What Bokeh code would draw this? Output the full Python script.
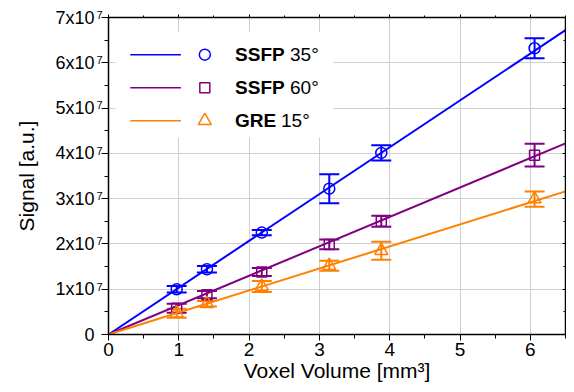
from bokeh.plotting import figure
from bokeh.models import (Whisker, ColumnDataSource, LinearAxis, FixedTicker, Label,
                          BoxAnnotation, Range1d, TeeHead, CustomJSTickFormatter)
from bokeh.embed import file_html
from bokeh.resources import INLINE

# ---- data ----
voxel_volume = [0.97, 1.40, 2.18, 3.14, 3.88, 6.06]
ssfp35 = [1.00e7, 1.44e7, 2.25e7, 3.22e7, 4.01e7, 6.32e7]
ssfp35_err = [0.07e7, 0.07e7, 0.06e7, 0.32e7, 0.17e7, 0.22e7]
ssfp60 = [0.58e7, 0.88e7, 1.38e7, 1.99e7, 2.50e7, 3.96e7]
ssfp60_err = [0.10e7, 0.08e7, 0.09e7, 0.11e7, 0.12e7, 0.25e7]
gre15 = [0.47e7, 0.68e7, 1.06e7, 1.52e7, 1.85e7, 2.99e7]
gre15_err = [0.10e7, 0.06e7, 0.12e7, 0.11e7, 0.20e7, 0.17e7]
fit_x = [0.0, 6.5]
fit_ssfp35 = [0.0, 6.72e7]
fit_ssfp60 = [0.0, 4.22e7]
fit_gre15 = [0.0, 3.16e7]
x_ticks = [0, 1, 2, 3, 4, 5, 6]
y_ticks = [0, 1e7, 2e7, 3e7, 4e7, 5e7, 6e7, 7e7]
y_tick_mantissa = ["0", "1x10", "2x10", "3x10", "4x10", "5x10", "6x10", "7x10"]
y_tick_exponent = ["", "7", "7", "7", "7", "7", "7", "7"]
series_names = ["SSFP", "SSFP", "GRE"]
series_angles = ["35°", "60°", "15°"]

BLUE, PURPLE, ORANGE = "#0000ff", "#800080", "#ff8000"
FONT = "Liberation Sans"

p = figure(width=566, height=384, output_backend="svg", toolbar_location=None,
           x_range=Range1d(0, 6.5), y_range=Range1d(0, 7e7),
           min_border_left=108, min_border_top=17, min_border_bottom=50, min_border_right=1)
p.outline_line_color = None
p.background_fill_color = "white"

minor_x = [i * 0.5 for i in range(0, 14)]
minor_y = [i * 0.5e7 for i in range(0, 15)]
blank = CustomJSTickFormatter(code="return ''")


def lookup(labels, suffix=""):
    return CustomJSTickFormatter(args=dict(tvals=y_ticks, tlabels=labels, suffix=suffix), code="""
        for (let i = 0; i < tvals.length; i++) {
            if (Math.abs(tvals[i] - tick) < 1) {
                return tlabels[i] === '' ? '' : tlabels[i] + suffix;
            }
        }
        return '';
    """)


# bottom axis
xa = p.xaxis[0]
xa.ticker = FixedTicker(ticks=x_ticks, minor_ticks=minor_x)
xa.axis_label = "Voxel Volume [mm³]"
xa.axis_line_color = "black"
xa.axis_line_width = 1.5
xa.major_tick_line_color = "black"
xa.minor_tick_line_color = "black"
xa.major_tick_in = 0
xa.minor_tick_in = 0
xa.major_tick_out = 6
xa.minor_tick_out = 4
xa.axis_label_text_font = FONT
xa.axis_label_text_font_style = "normal"
xa.axis_label_text_font_size = "21px"
xa.axis_label_text_color = "black"
xa.major_label_text_font = FONT
xa.major_label_text_color = "black"
xa.major_label_text_font_size = "19px"
xa.major_label_standoff = 2
xa.axis_label_standoff = 0

# left axis 1: ticks only (next to the frame)
ya = p.yaxis[0]
ya.ticker = FixedTicker(ticks=y_ticks, minor_ticks=minor_y)
ya.formatter = blank
ya.axis_line_color = "black"
ya.axis_line_width = 1.5
ya.major_tick_line_color = "black"
ya.minor_tick_line_color = "black"
ya.major_tick_in = 0
ya.minor_tick_in = 0
ya.major_tick_out = 7
ya.minor_tick_out = 4
ya.major_label_standoff = 0

# left axis 2: superscript exponents (raised by an empty second line)
ys_ax = LinearAxis(ticker=FixedTicker(ticks=y_ticks), formatter=lookup(y_tick_exponent, "\n"))
# left axis 3: mantissas and axis title
ym_ax = LinearAxis(ticker=FixedTicker(ticks=y_ticks), formatter=lookup(y_tick_mantissa),
                   axis_label="Signal [a.u.]")
for ax in (ys_ax, ym_ax):
    ax.axis_line_color = None
    ax.major_tick_line_color = None
    ax.minor_tick_line_color = None
    ax.major_tick_out = 0
    ax.major_tick_in = 0
    ax.minor_tick_out = 0
    ax.minor_tick_in = 0
    ax.major_label_text_font = FONT
    ax.major_label_text_color = "black"
ys_ax.major_label_text_font_size = "11px"
ys_ax.major_label_text_baseline = "bottom"
ys_ax.major_label_text_line_height = 0.45
ys_ax.major_label_standoff = -1
ym_ax.major_label_text_font_size = "18px"
ym_ax.major_label_standoff = -1
ym_ax.axis_label_text_font = FONT
ym_ax.axis_label_text_font_style = "normal"
ym_ax.axis_label_text_font_size = "21px"
ym_ax.axis_label_text_color = "black"
ym_ax.axis_label_standoff = 14
p.add_layout(ys_ax, "left")
p.add_layout(ym_ax, "left")

# top and right axes (ticks only)
top = LinearAxis(ticker=FixedTicker(ticks=x_ticks, minor_ticks=minor_x), formatter=blank)
right = LinearAxis(ticker=FixedTicker(ticks=y_ticks, minor_ticks=minor_y), formatter=blank)
for ax in (top, right):
    ax.major_label_standoff = 0
    ax.axis_line_color = "black"
    ax.axis_line_width = 1.5
    ax.major_tick_line_color = "black"
    ax.minor_tick_line_color = "black"
top.major_tick_in = 0
top.major_tick_out = 3
top.minor_tick_in = 0
top.minor_tick_out = 2
right.major_tick_in = 3
right.major_tick_out = 0
right.minor_tick_in = 2
right.minor_tick_out = 0
p.add_layout(top, "above")
p.add_layout(right, "right")

p.xgrid.ticker = FixedTicker(ticks=x_ticks)
p.ygrid.ticker = FixedTicker(ticks=y_ticks)
p.grid.grid_line_color = "#cfcfcf"
p.grid.grid_line_width = 1

# white legend background
p.add_layout(BoxAnnotation(left=0.1, right=3.2, bottom=4.35e7, top=6.68e7,
                           fill_color="white", fill_alpha=1.0, line_color=None,
                           level="underlay"))

series = [
    (ssfp35, ssfp35_err, fit_ssfp35, BLUE, "circle", 11),
    (ssfp60, ssfp60_err, fit_ssfp60, PURPLE, "square", 10),
    (gre15, gre15_err, fit_gre15, ORANGE, "triangle", 13),
]

for ys, err, fit, col, mk, sz in series:
    p.line(fit_x, fit, line_color=col, line_width=2)
    src = ColumnDataSource(dict(x=voxel_volume, y=ys,
                                up=[a + b for a, b in zip(ys, err)],
                                lo=[a - b for a, b in zip(ys, err)]))
    p.add_layout(Whisker(source=src, base="x", upper="up", lower="lo", dimension="height",
                         line_color=col, line_width=2,
                         upper_head=TeeHead(size=20, line_color=col, line_width=2),
                         lower_head=TeeHead(size=20, line_color=col, line_width=2)))
    p.scatter(x="x", y="y", source=src, marker=mk, size=sz, fill_color=None,
              line_color=col, line_width=1.5)

# legend (drawn manually)
leg_y = [6.18e7, 5.45e7, 4.72e7]
for (ys, err, fit, col, mk, sz), ly, nm, ang in zip(series, leg_y, series_names, series_angles):
    p.line([0.31, 1.03], [ly, ly], line_color=col, line_width=1.5)
    p.scatter([1.37], [ly], marker=mk, size=sz, fill_color=None, line_color=col, line_width=1.5)
    p.add_layout(Label(x=1.8, y=ly, text=nm, text_font=FONT, text_font_style="bold",
                       text_font_size="19px", text_baseline="middle", text_color="black"))
    p.add_layout(Label(x=1.8, y=ly, x_offset=55 if nm == "SSFP" else 46, text=ang,
                       text_font=FONT, text_font_size="19px", text_baseline="middle",
                       text_color="black"))

open("out.html", "w").write(file_html(p, INLINE))
